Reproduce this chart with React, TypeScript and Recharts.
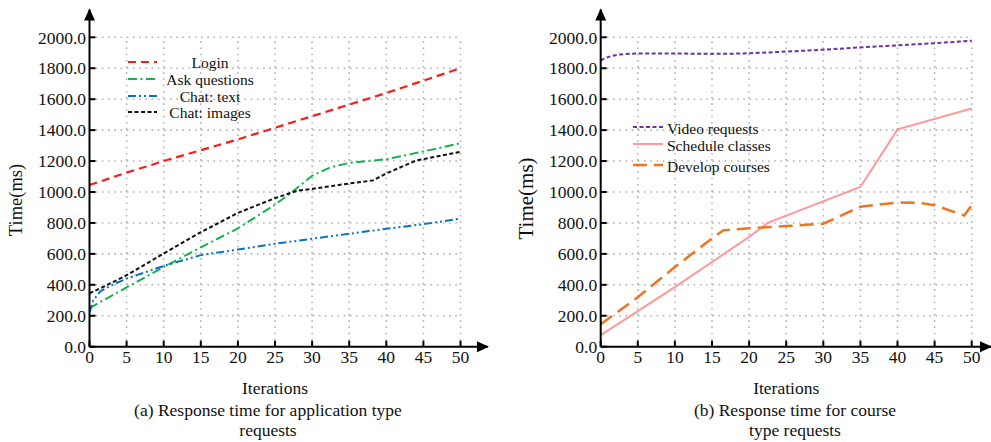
import React from 'react';
import { LineChart, Line, XAxis, YAxis, ReferenceLine, ReferenceDot, Legend } from 'recharts';

const FONT = '"Liberation Serif","Times New Roman",Times,serif';

// ---------- shared ticks ----------
const xTicks = [0, 5, 10, 15, 20, 25, 30, 35, 40, 45, 50];
const yTicks = [0, 200, 400, 600, 800, 1000, 1200, 1400, 1600, 1800, 2000];

// ---------- panel (a): application type requests ----------
const loginPts: [number, number][] = [[0, 1045], [5, 1125], [10, 1200], [15, 1270], [20, 1340], [25, 1415], [30, 1490], [35, 1565], [40, 1640], [45, 1720], [50, 1800]];
const askPts: [number, number][] = [[0, 250], [5, 383], [10, 515], [15, 642], [20, 765], [25, 918], [27.3, 1000], [30, 1105], [32.5, 1160], [35, 1188], [40, 1212], [45, 1262], [50, 1315]];
const chatTextPts: [number, number][] = [[0, 220], [0.5, 300], [1.5, 360], [3, 398], [5, 440], [10, 522], [15, 592], [20, 628], [25, 665], [30, 698], [35, 730], [40, 762], [45, 792], [50, 828]];
const chatImgPts: [number, number][] = [[0, 345], [2, 390], [5, 462], [10, 602], [15, 740], [20, 865], [25, 960], [28, 1008], [30, 1020], [35, 1055], [38.2, 1075], [40, 1120], [44, 1203], [45, 1212], [50, 1260]];

// ---------- panel (b): course type requests ----------
const videoPts: [number, number][] = [[0, 1850], [1, 1872], [2, 1884], [3, 1891], [5, 1895], [10, 1895], [15, 1893], [20, 1897], [25, 1908], [30, 1920], [35, 1935], [40, 1948], [45, 1962], [50, 1978]];
const schedulePts: [number, number][] = [[0, 75], [10, 385], [20, 710], [22.5, 800], [35, 1032], [40, 1405], [50, 1540]];
const developPts: [number, number][] = [[0, 145], [5, 320], [10, 515], [15, 700], [16.5, 752], [20, 765], [25, 780], [30, 795], [35, 905], [40, 932], [43, 930], [45, 915], [49, 848], [50, 915]];

const namesA = ['Login', 'Ask questions', 'Chat: text', 'Chat: images'];
const namesB = ['Video requests', 'Schedule classes', 'Develop courses'];
const captionA = ['(a) Response time for application type', 'requests'];
const captionB = ['(b) Response time for course', 'type requests'];

const toRows = (pts: [number, number][]) => pts.map(([x, y]) => ({ x, y }));

const Y_TOP = 2180;
const PLOT_BOTTOM = 346.7;
const PX_PER_X = 7.42;

type Style = { color: string; dash?: string; width: number; type?: 'linear' | 'monotone' };

const stylesA: Style[] = [
  { color: '#ff1a1a', dash: '8 5', width: 2.2 },
  { color: '#17b04f', dash: '9 3.5 2 3.5', width: 2 },
  { color: '#0a72c4', dash: '8 3 2 3 2 3', width: 2 },
  { color: '#111111', dash: '4 2.5', width: 2 },
];
const stylesB: Style[] = [
  { color: '#7030a0', dash: '4 2.5', width: 2, type: 'monotone' },
  { color: '#ff9999', width: 2 },
  { color: '#ec7524', dash: '14 7', width: 2.5 },
];

type PanelProps = {
  left: number;
  width: number;
  yAxisWidth: number;
  xMax: number;
  series: [number, number][][];
  names: string[];
  styles: Style[];
  caption: string[];
  captionX: number;
  yLabelX: number;
  yLabelY: number;
  yLabelSize: number;
  legend: 'a' | 'b';
};

function Panel(p: PanelProps) {
  const plotWidth = p.xMax * PX_PER_X;
  const marginRight = p.width - p.yAxisWidth - plotWidth;
  const iterX = p.yAxisWidth + 25 * PX_PER_X;

  const legendContent = () => {
    if (p.legend === 'a') {
      const rows = [12, 29, 46, 62];
      return (
        <svg width={190} height={80} style={{ overflow: 'visible' }}>
          {p.names.map((n, i) => (
            <g key={n}>
              <line x1={8} x2={37} y1={rows[i]} y2={rows[i]} stroke={p.styles[i].color} strokeWidth={p.styles[i].width} strokeDasharray={p.styles[i].dash} />
              <text x={90} y={rows[i]} textAnchor="middle" dominantBaseline="central" fontFamily={FONT} fontSize={15.5} fill="#111">{n}</text>
            </g>
          ))}
        </svg>
      );
    }
    const rows = [13, 30, 51];
    return (
      <svg width={200} height={70} style={{ overflow: 'visible' }}>
        {p.names.map((n, i) => (
          <g key={n}>
            <line x1={8} x2={38} y1={rows[i] - 1} y2={rows[i] - 1} stroke={p.styles[i].color} strokeWidth={p.styles[i].width} strokeDasharray={p.styles[i].dash} />
            <text x={42} y={rows[i]} textAnchor="start" dominantBaseline="central" fontFamily={FONT} fontSize={15.5} fill="#111">{n}</text>
          </g>
        ))}
      </svg>
    );
  };

  const xLabel = () => (
    <g fontFamily={FONT} fill="#111">
      <text x={iterX} y={394} textAnchor="middle" fontSize={17.5}>Iterations</text>
      <text x={p.captionX} y={416} textAnchor="middle" fontSize={17.5}>{p.caption[0]}</text>
      <text x={p.captionX} y={436} textAnchor="middle" fontSize={17.5}>{p.caption[1]}</text>
    </g>
  );

  const yLabel = () => (
    <text
      x={p.yLabelX}
      y={p.yLabelY}
      transform={`rotate(-90, ${p.yLabelX}, ${p.yLabelY})`}
      textAnchor="middle"
      dominantBaseline="central"
      fontFamily={FONT}
      fontSize={p.yLabelSize}
      fill="#111"
    >
      Time(ms)
    </text>
  );

  const upArrow = (s: any) => (
    <polygon points={`${s.cx},${s.cy - 1} ${s.cx - 5.5},${s.cy + 11} ${s.cx + 5.5},${s.cy + 11}`} fill="#000" />
  );
  const rightArrow = (s: any) => (
    <polygon points={`${s.cx + 1},${s.cy} ${s.cx - 11},${s.cy - 5.5} ${s.cx - 11},${s.cy + 5.5}`} fill="#000" />
  );

  const tickStyle = { fontFamily: FONT, fontSize: 17.5, fill: '#111' };
  const gridStroke = '#b3b3b3';

  return (
    <div style={{ position: 'absolute', left: p.left, top: 0 }}>
      <LineChart
        width={p.width}
        height={442}
        margin={{ top: PLOT_BOTTOM - Y_TOP * 0.1547, right: marginRight, bottom: 0, left: 0 }}
      >
        <XAxis
          dataKey="x"
          type="number"
          domain={[0, p.xMax]}
          ticks={xTicks}
          interval={0}
          allowDataOverflow
          height={442 - PLOT_BOTTOM}
          axisLine={{ stroke: '#000', strokeWidth: 2 }}
          tickLine={{ stroke: '#000', strokeWidth: 2 }}
          tickSize={-6}
          tickMargin={10}
          tick={tickStyle}
          label={xLabel}
        />
        <YAxis
          type="number"
          domain={[0, Y_TOP]}
          ticks={yTicks}
          interval={0}
          allowDataOverflow
          width={p.yAxisWidth}
          axisLine={{ stroke: '#000', strokeWidth: 2 }}
          tickLine={{ stroke: '#000', strokeWidth: 2 }}
          tickSize={-6}
          tickMargin={9.5}
          tick={tickStyle}
          tickFormatter={(v: number) => v.toFixed(1)}
          label={yLabel}
        />
        {yTicks.filter((v) => v > 0).map((v) => (
          <ReferenceLine key={'h' + v} segment={[{ x: 0, y: v }, { x: 50, y: v }]} stroke={gridStroke} strokeWidth={1.6} strokeDasharray="1.6 4.6" ifOverflow="visible" />
        ))}
        {xTicks.filter((v) => v > 0).map((v) => (
          <ReferenceLine key={'v' + v} segment={[{ x: v, y: 0 }, { x: v, y: 2000 }]} stroke={gridStroke} strokeWidth={1.6} strokeDasharray="1.6 4.6" ifOverflow="visible" />
        ))}
        {p.series.map((pts, i) => (
          <Line
            key={p.names[i]}
            data={toRows(pts)}
            dataKey="y"
            name={p.names[i]}
            type={p.styles[i].type || 'linear'}
            stroke={p.styles[i].color}
            strokeWidth={p.styles[i].width}
            strokeDasharray={p.styles[i].dash}
            dot={false}
            activeDot={false}
            isAnimationActive={false}
          />
        ))}
        <ReferenceDot x={0} y={Y_TOP} r={0} ifOverflow="visible" shape={upArrow} />
        <ReferenceDot x={p.xMax} y={0} r={0} ifOverflow="visible" shape={rightArrow} />
        <Legend
          layout="vertical"
          align="center"
          verticalAlign="middle"
          content={legendContent}
          wrapperStyle={
            p.legend === 'a'
              ? { position: 'absolute', left: 120, top: 50, width: 190, height: 80 }
              : { position: 'absolute', left: 125, top: 115, width: 200, height: 70 }
          }
        />
      </LineChart>
    </div>
  );
}

export default function App() {
  return (
    <div style={{ position: 'absolute', left: 0, top: 0, width: 991, height: 442, background: '#fff', overflow: 'hidden' }}>
      <Panel
        left={0}
        width={500}
        yAxisWidth={89.5}
        xMax={53.7}
        series={[loginPts, askPts, chatTextPts, chatImgPts]}
        names={namesA}
        styles={stylesA}
        caption={captionA}
        captionX={268}
        yLabelX={16}
        yLabelY={200}
        yLabelSize={18.5}
        legend="a"
      />
      <Panel
        left={500}
        width={491}
        yAxisWidth={100.7}
        xMax={52.6}
        series={[videoPts, schedulePts, developPts]}
        names={namesB}
        styles={stylesB}
        caption={captionB}
        captionX={295}
        yLabelX={25.5}
        yLabelY={198.5}
        yLabelSize={21}
        legend="b"
      />
    </div>
  );
}
